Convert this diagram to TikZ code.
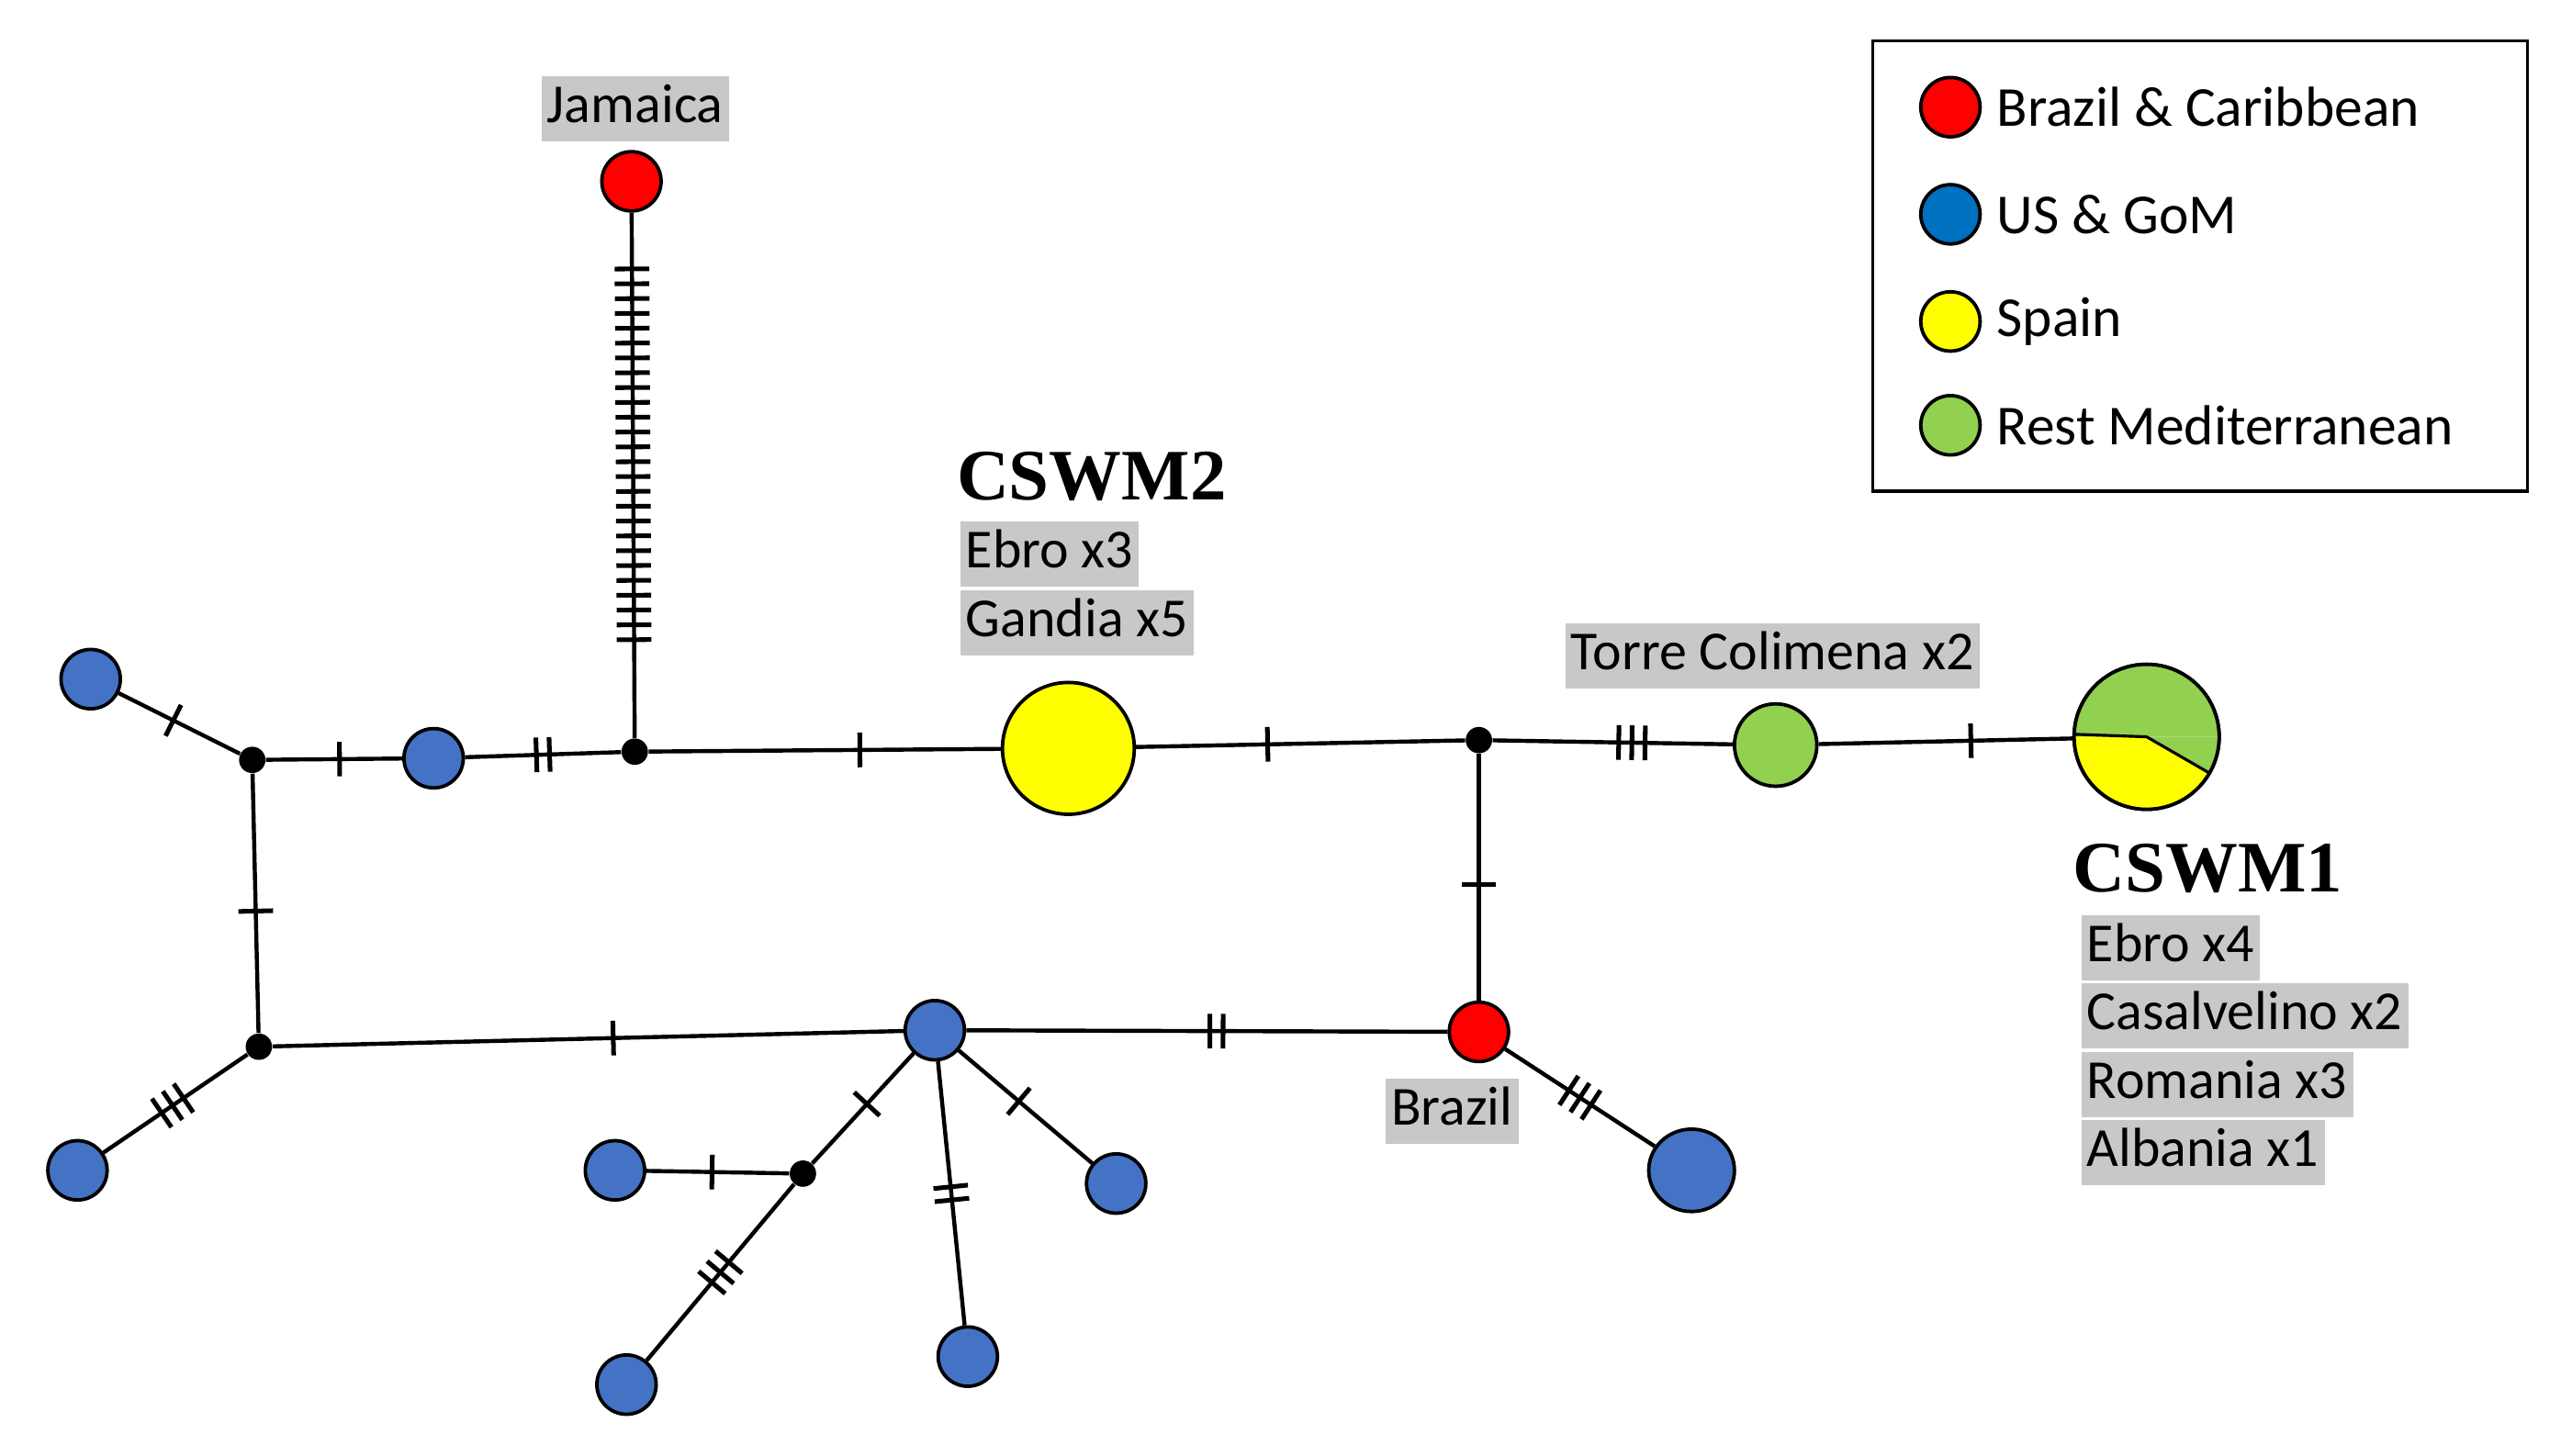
\documentclass[tikz,border=0pt]{standalone}
\usepackage{fontspec}
\usetikzlibrary{shapes.geometric}
\setmainfont{Carlito}
\newfontfamily\tnr{Liberation Serif}
\definecolor{cred}{HTML}{FF0000}
\definecolor{cblue}{HTML}{4472C4}
\definecolor{lblue}{HTML}{0070C0}
\definecolor{cyel}{HTML}{FFFF00}
\definecolor{cgrn}{HTML}{92D050}
\definecolor{lab}{HTML}{C8C8C8}
\newcommand\tks[2][0.16]{\tikz[baseline=0pt]{\foreach\i in{1,...,#2}\draw[line width=1.6pt](\i*#1 cm,-0.21cm)--++(0,0.42cm);}}
\begin{document}
\begin{tikzpicture}[x=0.02cm,y=-0.02cm,
  hap/.style={circle,draw,line width=1.2pt,inner sep=0,minimum size=#1*0.04cm},
  bl/.style={hap=18,fill=cblue},
  dot/.style={circle,fill=black,inner sep=0,minimum size=0.32cm},
  e/.style={line width=1.4pt},
  tk/.style={sloped,inner sep=0,pos=#1},
  lbl/.style={fill=lab,inner sep=2pt,anchor=west,font=\fontsize{19}{19}\selectfont,text height=14pt,text depth=4.5pt},
  leg/.style={anchor=west,font=\fontsize{19.5}{19.5}\selectfont}]
\useasboundingbox (0,0) rectangle (1560,883);
% nodes
\node[hap=18,fill=cred] (jam) at (383,110) {};
\node[dot] (J) at (385,456) {};
\node[bl] (b1) at (263,460) {};
\node[dot] (A) at (153,461) {};
\node[bl] (tl) at (55,412) {};
\node[dot] (C) at (157,635) {};
\node[bl] (bll) at (47,710) {};
\node[bl] (H) at (567,625) {};
\node[hap=18,fill=cred] (bra) at (897,626) {};
\node[dot] (D) at (897,449) {};
\node[hap=40,fill=cyel] (y2) at (648,454) {};
\node[hap=25,fill=cgrn] (tc) at (1077,452) {};
\node[hap=44] (c1) at (1302,447) {};
\fill[cgrn] (c1.center) -- ++(0:0.88cm) arc (0:180:0.88cm) -- cycle;
\fill[cgrn] (c1.center) -- ++(-30:0.88cm) arc (-30:0:0.88cm) -- cycle;
\fill[cyel] (c1.center) -- ++(180:0.88cm) arc (180:330:0.88cm) -- cycle;
\draw[line width=1pt] (c1.center) -- ++(-30:0.88cm) (c1.center) -- ++(178:0.88cm);
\node[hap=44] at (1302,447) {};
\node[ellipse,draw,line width=1.2pt,fill=cblue,minimum width=1.04cm,minimum height=1cm,inner sep=0] (bb) at (1026,710) {};
\node[dot] (E) at (487,712) {};
\node[bl] (e1) at (373,710) {};
\node[bl] (e2) at (380,840) {};
\node[bl] (h1) at (587,823) {};
\node[bl] (h2) at (677,718) {};
% edges
\draw[e] (J) -- (jam) node[tk=0.54]{\tks[0.18]{26}};
\draw[e] (A) -- (b1) node[tk=0.54]{\tks{1}};
\draw[e] (b1) -- (J) node[tk=0.5]{\tks{2}};
\draw[e] (J) -- (y2) node[tk=0.6]{\tks{1}};
\draw[e] (y2) -- (D) node[tk=0.4]{\tks{1}};
\draw[e] (D) -- (tc) node[tk=0.58]{\tks{3}};
\draw[e] (tc) -- (c1) node[tk=0.6]{\tks{1}};
\draw[e] (D) -- (bra) node[tk=0.53]{\tks{1}};
\draw[e] (A) -- (C) node[tk=0.53]{\tks{1}};
\draw[e] (A) -- (tl) node[tk=0.55]{\tks{1}};
\draw[e] (C) -- (bll) node[tk=0.52]{\tks{3}};
\draw[e] (C) -- (H) node[tk=0.54]{\tks{1}};
\draw[e] (H) -- (bra) node[tk=0.52]{\tks{2}};
\draw[e] (bra) -- (bb) node[tk=0.5]{\tks{3}};
\draw[e] (H) -- (E) node[tk=0.46]{\tks{1}};
\draw[e] (E) -- (e1) node[tk=0.54]{\tks{1}};
\draw[e] (E) -- (e2) node[tk=0.5]{\tks{3}};
\draw[e] (H) -- (h1) node[tk=0.5]{\tks{2}};
\draw[e] (H) -- (h2) node[tk=0.45]{\tks{1}};
% labels
\node[lbl] (ljam) at (328,66) {Jamaica};
\node[lbl] (lbra) at (840,674) {Brazil};
\node[anchor=base west,inner sep=0,font=\tnr\bfseries\fontsize{25}{25}\selectfont] (t2) at (580,303) {CSWM2};
\node[lbl] at (582,336) {Ebro x3};
\node[lbl] at (582,378) {Gandia x5};
\node[lbl] at (949,398) {Torre Colimena x2};
\node[anchor=base west,inner sep=0,font=\tnr\bfseries\fontsize{25}{25}\selectfont] (t1) at (1257,541) {CSWM1};
\node[lbl] at (1262,575) {Ebro x4};
\node[lbl] at (1262,616) {Casalvelino x2};
\node[lbl] at (1262,658) {Romania x3};
\node[lbl] at (1262,699) {Albania x1};
% legend
\draw[line width=1pt] (1136,25) rectangle (1533,298);
\node[hap=18,fill=cred] (g1) at (1183,65) {};
\node[hap=18,fill=lblue] (g2) at (1183,130) {};
\node[hap=18,fill=cyel] (g3) at (1183,195) {};
\node[hap=18,fill=cgrn] (g4) at (1183,258) {};
\node[leg] at (1205,65) {Brazil \& Caribbean};
\node[leg] at (1205,130) {US \& GoM};
\node[leg] at (1205,195) {Spain};
\node[leg] at (1205,258) {Rest Mediterranean};
\end{tikzpicture}
\end{document}
